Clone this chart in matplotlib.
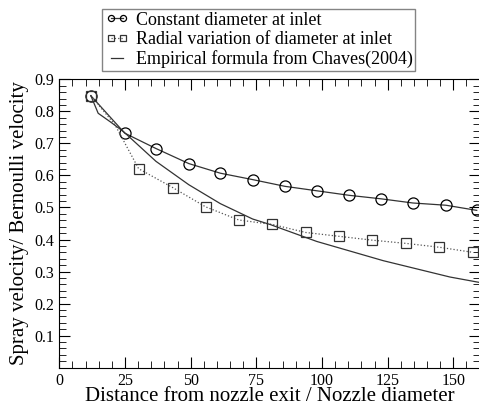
import numpy as np
import matplotlib.pyplot as plt
from matplotlib.ticker import MultipleLocator

plt.rcParams['font.family'] = ['Liberation Serif', 'DejaVu Serif']

# Constant diameter at inlet
x_const = [12.0, 24.9, 36.8, 49.3, 61.3, 73.6, 85.9, 98.1, 110.3, 122.5, 134.6, 147.2, 158.9]
y_const = [0.849, 0.732, 0.684, 0.637, 0.607, 0.587, 0.566, 0.552, 0.538, 0.527, 0.514, 0.507, 0.491]

# Radial variation of diameter at inlet (second point has no marker)
x_rad = [12.0, 21.2, 30.2, 43.2, 55.7, 68.3, 81.1, 93.8, 106.5, 119.1, 131.9, 144.6, 157.4]
y_rad = [0.849, 0.758, 0.621, 0.562, 0.502, 0.461, 0.447, 0.422, 0.410, 0.398, 0.388, 0.376, 0.360]
rad_marks = [0, 2, 3, 4, 5, 6, 7, 8, 9, 10, 11, 12]

# Empirical formula from Chaves(2004)
x_chaves = [12.0, 14.8, 19.3, 24.4, 36.8, 49.3, 61.3, 73.6, 80.2, 98.0, 123.3, 148.7, 160.0]
y_chaves = [0.849, 0.794, 0.768, 0.737, 0.644, 0.571, 0.512, 0.464, 0.447, 0.394, 0.334, 0.283, 0.266]

fig = plt.figure(figsize=(4.79, 4.08), dpi=100)
ax = fig.add_axes([0.1238, 0.0988, 0.8775, 0.7068])

ax.plot(x_const, y_const, '-', color='#333333', lw=0.9, marker='o', ms=8,
        mfc='none', mec='black', mew=0.9, label='Constant diameter at inlet')
ax.plot(x_rad, y_rad, ':', color='#555555', lw=0.9, marker='s', ms=7.5,
        mfc='none', mec='#333333', mew=0.9, markevery=rad_marks,
        label='Radial variation of diameter at inlet')
ax.plot(x_chaves, y_chaves, '-', color='#333333', lw=0.9,
        label='Empirical formula from Chaves(2004)')

ax.set_xlim(0, 160)
ax.set_ylim(0, 0.9)
ax.xaxis.set_major_locator(MultipleLocator(25))
ax.xaxis.set_minor_locator(MultipleLocator(5))
ax.set_yticks(np.arange(0.1, 0.95, 0.1))
ax.yaxis.set_minor_locator(MultipleLocator(0.02))
ax.tick_params(which='both', direction='in', top=True, right=True, labelsize=11.5)
ax.tick_params(which='major', length=8)
ax.tick_params(which='minor', length=5)

ax.set_xlabel('Distance from nozzle exit / Nozzle diameter', fontsize=15, labelpad=-1)
ax.set_ylabel('Spray velocity/ Bernoulli velocity', fontsize=15, labelpad=4)

leg = ax.legend(loc='lower center', bbox_to_anchor=(0.475, 1.03), fontsize=13,
                handlelength=1.3, handletextpad=0.4, labelspacing=0.12,
                borderpad=0.15, borderaxespad=0, fancybox=False, frameon=True,
                markerscale=0.55, numpoints=2)
leg.get_frame().set_edgecolor('#666666')
leg.get_frame().set_linewidth(1)

fig.savefig('out.png', dpi=100)
